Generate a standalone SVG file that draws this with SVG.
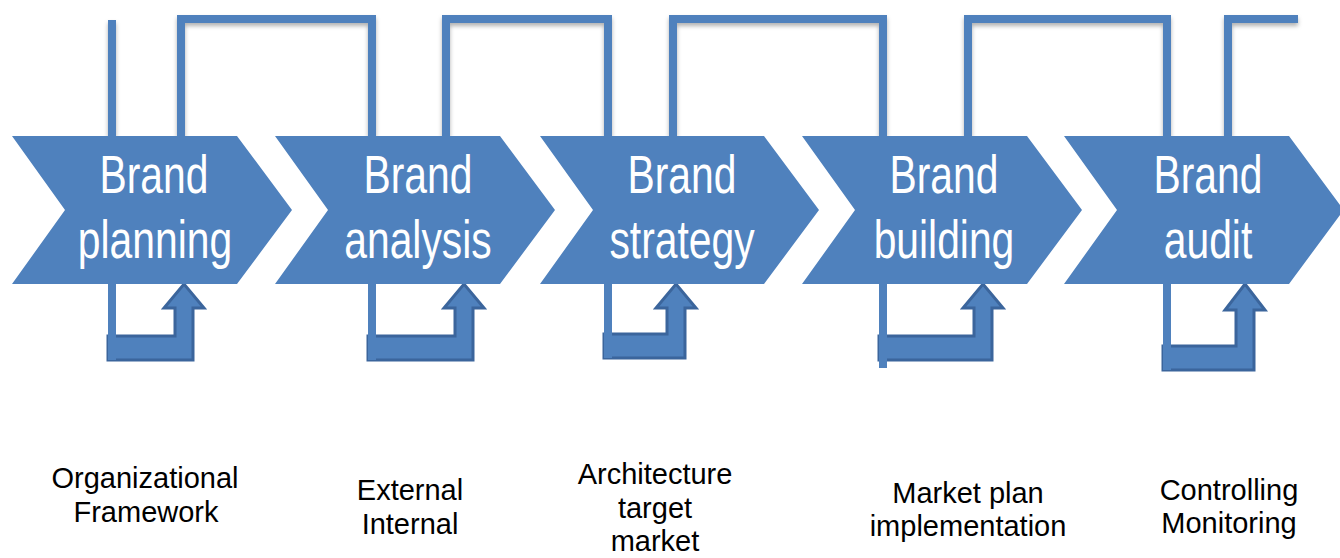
<svg xmlns="http://www.w3.org/2000/svg" width="1340" height="558" viewBox="0 0 1340 558">
<defs>
<filter id="sh" x="-10%" y="-50%" width="120%" height="200%">
<feDropShadow dx="0" dy="3" stdDeviation="2" flood-color="#000" flood-opacity="0.3"/>
</filter>
<style>
.chev{fill:#4f81bd;}
.ct{font-family:"Liberation Sans",Arial,sans-serif;font-size:53px;fill:#ffffff;text-anchor:middle;}
.ln{fill:none;stroke:#4f81bd;stroke-width:8;stroke-linejoin:miter;}
.ba{fill:#4f81bd;stroke:#3b659c;stroke-width:3;stroke-linejoin:miter;}
.lt{font-family:"Liberation Sans",Arial,sans-serif;font-size:29px;fill:#000000;text-anchor:middle;}
</style>
</defs>
<rect width="1340" height="558" fill="#ffffff"/>
<g id="connectors">
<g filter="url(#sh)">
<path class="ln" d="M112,20 V136"/>
<path class="ln" d="M181,136 V19 H372 V136"/>
<path class="ln" d="M446,136 V19 H608 V136"/>
<path class="ln" d="M673,136 V19 H883 V136"/>
<path class="ln" d="M968,136 V19 H1167 V136"/>
<path class="ln" d="M1228,136 V19 H1298"/>
</g>
<polygon class="ba" points="108,336 175,336 175,308 164,308 184,284 204,308 193,308 193,360 108,360"/>
<path class="ln" d="M112,284 V360"/>
<polygon class="ba" points="368,336 455,336 455,308 444,308 464,284 484,308 473,308 473,360 368,360"/>
<path class="ln" d="M372,284 V360"/>
<polygon class="ba" points="604,334 667,334 667,308 656,308 676,284 696,308 685,308 685,358 604,358"/>
<path class="ln" d="M608,284 V358"/>
<polygon class="ba" points="879,336 974,336 974,308 963,308 983,284 1003,308 992,308 992,360 879,360"/>
<path class="ln" d="M883,284 V368"/>
<polygon class="ba" points="1163,346 1236,346 1236,310 1225,310 1245,284 1265,310 1254,310 1254,370 1163,370"/>
<path class="ln" d="M1167,284 V370"/>
</g>
<g id="node-planning">
<polygon class="chev" points="12,136 237,136 292,210 237,284 12,284 65,210"/>
<text class="ct" transform="translate(154,193) scale(0.77,1)">Brand</text>
<text class="ct" transform="translate(155,258) scale(0.77,1)">planning</text>
</g>
<g id="node-analysis">
<polygon class="chev" points="275,136 500,136 555,210 500,284 275,284 328,210"/>
<text class="ct" transform="translate(418,193) scale(0.77,1)">Brand</text>
<text class="ct" transform="translate(418,258) scale(0.77,1)">analysis</text>
</g>
<g id="node-strategy">
<polygon class="chev" points="540,136 764,136 819,210 764,284 540,284 593,210"/>
<text class="ct" transform="translate(682,193) scale(0.77,1)">Brand</text>
<text class="ct" transform="translate(682,258) scale(0.77,1)">strategy</text>
</g>
<g id="node-building">
<polygon class="chev" points="802,136 1027,136 1082,210 1027,284 802,284 855,210"/>
<text class="ct" transform="translate(944,193) scale(0.77,1)">Brand</text>
<text class="ct" transform="translate(944,258) scale(0.77,1)">building</text>
</g>
<g id="node-audit">
<polygon class="chev" points="1064,136 1289,136 1340,205 1340,215 1289,284 1064,284 1117,210"/>
<text class="ct" transform="translate(1208,193) scale(0.77,1)">Brand</text>
<text class="ct" transform="translate(1208,258) scale(0.77,1)">audit</text>
</g>
<g id="label-planning">
<text class="lt" x="145" y="488">Organizational</text>
<text class="lt" x="146" y="522">Framework</text>
</g>
<g id="label-analysis">
<text class="lt" x="410" y="500">External</text>
<text class="lt" x="410" y="534">Internal</text>
</g>
<g id="label-strategy">
<text class="lt" x="655" y="484">Architecture</text>
<text class="lt" x="655" y="518">target</text>
<text class="lt" x="655" y="551">market</text>
</g>
<g id="label-building">
<text class="lt" x="968" y="503">Market plan</text>
<text class="lt" x="968" y="536">implementation</text>
</g>
<g id="label-audit">
<text class="lt" x="1229" y="500">Controlling</text>
<text class="lt" x="1229" y="533">Monitoring</text>
</g>
</svg>
